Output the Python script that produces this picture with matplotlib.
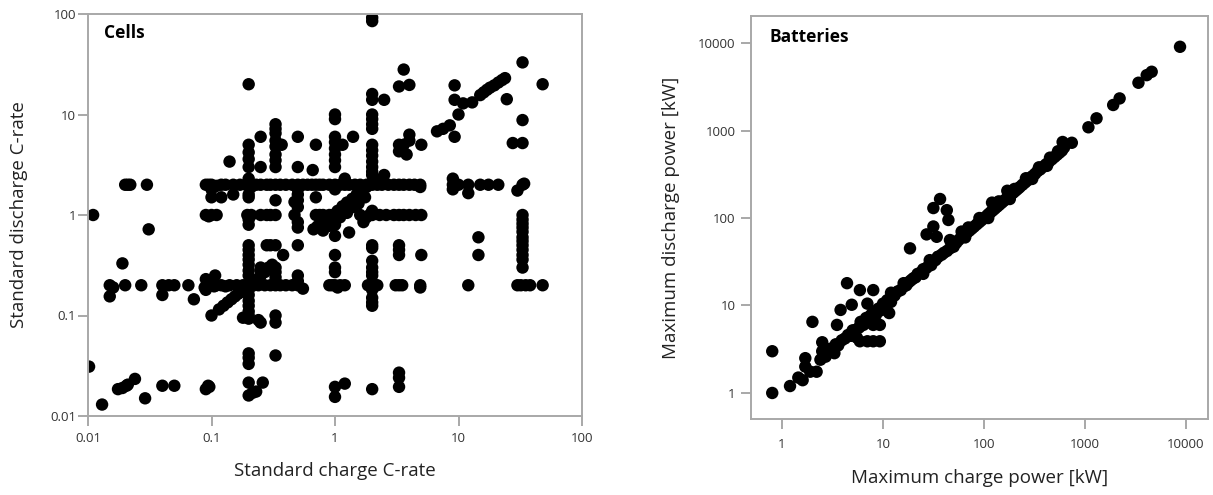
import numpy as np
import matplotlib
matplotlib.use("Agg")
import matplotlib.pyplot as plt

plt.rcParams['font.family'] = ['Open Sans', 'DejaVu Sans']

# --- cells: standard charge vs discharge C-rate ---
cells_bottom = [
    (0.0102, 0.031), (0.013, 0.013), (0.0175, 0.0185), (0.019, 0.019), (0.0205, 0.02), (0.021, 0.0205),
    (0.024, 0.0234), (0.029, 0.015), (0.04, 0.02), (0.05, 0.02), (0.09, 0.0185), (0.094, 0.02), (0.096, 0.0195),
    (0.2, 0.0215), (0.2, 0.016), (0.215, 0.017), (0.23, 0.0175), (0.26, 0.0215),
    (0.2, 0.033), (0.2, 0.038), (0.2, 0.042), (0.33, 0.04),
    (1.0, 0.0195), (1.0, 0.0155), (1.2, 0.021), (2.0, 0.0185), (3.3, 0.027), (3.3, 0.024), (3.3, 0.0195),
]

cells_tenth = [
    (0.015, 0.2), (0.016, 0.19), (0.02, 0.2), (0.027, 0.2), (0.04, 0.2), (0.045, 0.2), (0.05, 0.2), (0.065, 0.2),
    (0.088, 0.19), (0.092, 0.2), (0.1, 0.2), (0.105, 0.195), (0.11, 0.2), (0.12, 0.2), (0.13, 0.195), (0.14, 0.2),
    (0.16, 0.2), (0.18, 0.2), (0.2, 0.2), (0.22, 0.2), (0.24, 0.2), (0.27, 0.2), (0.3, 0.2), (0.33, 0.2), (0.36, 0.2),
    (0.4, 0.2), (0.45, 0.2), (0.5, 0.2), (0.55, 0.185), (0.9, 0.2), (0.95, 0.2), (1.0, 0.2), (1.05, 0.19), (1.1, 0.2),
    (1.2, 0.2), (1.85, 0.2), (1.95, 0.195), (2.0, 0.2), (2.1, 0.2), (2.2, 0.2), (3.1, 0.2), (3.3, 0.2), (3.5, 0.2),
    (4.9, 0.2), (4.9, 0.19), (12, 0.2), (30, 0.2), (32, 0.2), (35, 0.2), (38, 0.2), (48, 0.2),
    (0.015, 0.155), (0.04, 0.16), (0.072, 0.145), (0.09, 0.18), (0.09, 0.23), (0.1, 0.22), (0.107, 0.25),
    (0.1, 0.1), (0.2, 0.093), (0.2, 0.1), (0.2, 0.11), (0.2, 0.125), (0.2, 0.14), (0.2, 0.16), (0.2, 0.18),
    (0.2, 0.25), (0.2, 0.28), (0.2, 0.32), (0.2, 0.36), (0.2, 0.4), (0.2, 0.45), (0.2, 0.5),
    (0.18, 0.095), (0.25, 0.085), (0.24, 0.09), (0.25, 0.28), (0.25, 0.3), (0.28, 0.5), (0.3, 0.5), (0.33, 0.5),
    (0.33, 0.1), (0.33, 0.085), (0.33, 0.3), (0.33, 0.27), (0.33, 0.24), (0.38, 0.4), (0.5, 0.5), (0.5, 0.25),
    (0.5, 0.22), (0.019, 0.33),
    (0.115, 0.115), (0.125, 0.125), (0.135, 0.135), (0.145, 0.145), (0.155, 0.155), (0.165, 0.165),
    (0.175, 0.172), (0.19, 0.185), (0.21, 0.21), (0.23, 0.225), (0.25, 0.25), (0.27, 0.27), (0.29, 0.3), (0.31, 0.32),
    (1.0, 0.4), (1.0, 0.3), (1.0, 0.27), (2.0, 0.47), (2.0, 0.5), (2.0, 0.35), (2.0, 0.3), (2.0, 0.27), (2.0, 0.25),
    (2.0, 0.18), (2.0, 0.15), (2.0, 0.135), (2.0, 0.125),
    (3.3, 0.5), (3.3, 0.45), (3.3, 0.4), (5.0, 0.4), (14.5, 0.6), (14.5, 0.4),
    (33, 0.3), (33, 0.36), (33, 0.4), (33, 0.45), (33, 0.5), (33, 0.55), (33, 0.6), (33, 0.68), (33, 0.75),
    (33, 0.82), (33, 0.9),
]

cells_unit = [
    (0.011, 1.0), (0.031, 0.72), (0.09, 1.0), (0.095, 0.97), (0.1, 1.0), (0.11, 1.0), (0.195, 1.0), (0.2, 0.9),
    (0.2, 0.8), (0.21, 1.0), (0.25, 1.0), (0.28, 1.0), (0.3, 1.0), (0.33, 1.0), (0.47, 1.0), (0.5, 0.75),
    (0.5, 0.85), (0.5, 1.2), (0.5, 1.4), (0.5, 1.6), (0.5, 1.8), (0.47, 1.35), (0.7, 1.0), (0.75, 1.0), (0.8, 1.0),
    (0.9, 1.0), (1.0, 1.0), (1.0, 0.62), (1.0, 0.8), (1.3, 0.67), (1.6, 1.0), (1.7, 0.85), (1.8, 0.95), (1.9, 1.0),
    (2.0, 1.0), (2.0, 1.1), (2.3, 1.0), (2.6, 1.0), (3.0, 1.0), (3.3, 1.0), (3.6, 1.0), (4.0, 1.0), (4.5, 1.0),
    (5.0, 1.0), (33, 1.0),
    (0.67, 0.72), (0.72, 0.77), (0.78, 0.84), (0.86, 0.92), (0.95, 1.0), (1.05, 1.1), (1.15, 1.22), (1.25, 1.33),
    (1.38, 1.45), (1.5, 1.6), (1.65, 1.75), (1.8, 1.9), (1.95, 2.05), (2.1, 2.25),
    (0.8, 0.7), (0.9, 0.78), (1.0, 0.86), (1.1, 0.95), (1.25, 1.05), (1.4, 1.2), (1.55, 1.3), (1.75, 1.5),
    (0.1, 1.5), (0.12, 1.5), (0.15, 1.6), (0.2, 1.5), (0.2, 1.6), (0.33, 1.4), (0.7, 1.5), (1.0, 1.8), (0.1, 1.8),
    (0.02, 2.0), (0.021, 2.0), (0.022, 2.0), (0.03, 2.0), (0.09, 2.0), (0.095, 2.0), (0.1, 2.0), (0.11, 1.95),
    (0.12, 2.0), (0.13, 2.0), (0.15, 2.0), (0.17, 2.0), (0.19, 2.0), (0.2, 2.0), (0.21, 1.9), (0.23, 2.0),
    (0.25, 2.0), (0.28, 2.0), (0.3, 2.0), (0.33, 2.0), (0.36, 2.0), (0.4, 2.0), (0.45, 2.0), (0.5, 2.0),
    (0.55, 2.0), (0.6, 2.0), (0.65, 2.0), (0.7, 2.0), (0.75, 2.0), (0.8, 2.0), (0.9, 2.0), (1.0, 2.0), (1.1, 2.0),
    (1.2, 2.0), (1.3, 2.0), (1.45, 2.0), (1.6, 2.0), (1.8, 2.0), (2.0, 2.0), (2.2, 2.0), (2.4, 2.0), (2.7, 2.0),
    (3.0, 2.0), (3.3, 2.0), (3.6, 2.0), (4.0, 2.0), (4.4, 2.0), (4.9, 2.0), (4.9, 1.9),
    (9.0, 2.0), (9.0, 2.3), (9.0, 1.8), (9.5, 2.0), (10, 2.0), (12, 1.65), (12, 2.0), (15, 2.0), (17.5, 2.0),
    (21, 2.0), (30, 1.75), (33, 2.0), (34, 2.05),
    (0.2, 2.3), (1.2, 2.3), (2.0, 2.5), (2.5, 2.5),
]

cells_high = [
    (0.14, 3.4), (0.2, 3.0), (0.2, 3.6), (0.2, 4.2), (0.2, 5.0), (0.25, 3.0), (0.25, 6.0), (0.33, 8.0),
    (0.33, 7.2), (0.33, 6.5), (0.33, 5.5), (0.33, 4.8), (0.33, 4.0), (0.33, 3.5), (0.33, 3.0), (0.37, 5.0),
    (0.5, 6.0), (0.5, 3.0), (0.66, 2.8), (0.7, 5.0),
    (1.0, 10), (1.0, 9.0), (1.0, 6.0), (1.0, 5.3), (1.0, 4.6), (1.0, 4.0), (1.0, 3.5), (1.0, 3.0), (1.15, 5.0),
    (1.4, 6.0),
    (2.0, 16), (2.0, 14), (2.0, 10), (2.0, 9.0), (2.0, 8.0), (2.0, 7.2), (2.0, 5.0), (2.0, 4.4), (2.0, 3.9),
    (2.0, 3.4), (2.0, 3.0), (2.0, 2.7), (2.5, 14),
    (3.3, 5.0), (3.3, 4.3), (3.6, 5.0), (3.8, 4.0), (4.0, 6.3), (4.0, 5.5), (5.0, 5.0),
    (0.2, 20), (2.0, 92), (2.0, 85), (3.3, 19), (3.6, 28), (4.0, 19.7),
    (6.7, 6.8), (7.5, 7.2), (8.5, 7.8), (9.3, 6.0), (9.3, 14), (9.3, 19.5), (10, 10), (10.9, 12.9), (12.9, 13.2),
    (15, 15.6), (16, 16.6), (17, 17.6), (18, 18.5), (19.5, 19.5), (21, 20.8), (22.5, 22), (23.8, 23),
    (24.6, 14.2), (27.5, 5.2), (33, 5.2), (33, 8.8), (33, 33), (48, 20),
]

# --- batteries: maximum charge vs discharge power [kW] ---
batt_band = [
    (1.2, 1.2), (1.45, 1.5), (1.6, 1.4), (1.7, 2.0), (1.7, 2.5), (1.9, 1.75), (2.2, 1.75), (2.4, 2.4),
    (2.5, 3.0), (2.5, 3.8), (2.7, 2.6), (3.0, 3.2), (3.3, 2.85), (3.4, 3.6), (3.6, 3.5), (3.9, 4.0), (4.2, 4.2),
    (4.5, 4.6), (4.8, 4.5), (5.0, 5.2), (5.4, 5.3), (5.8, 5.6), (6.0, 6.5), (6.4, 6.0), (6.8, 7.2), (7.2, 6.8),
    (7.6, 7.8), (8.0, 8.5), (8.5, 7.8), (9.0, 9.2), (9.5, 8.8), (10, 10.5), (10.5, 9.5), (11, 11.5), (12, 11),
    (12, 12.5), (13, 13), (14, 14.5), (15, 15), (16, 16.5), (17, 17), (18, 18.5), (19, 19.5), (20, 20.5),
    (21, 21), (22, 23), (24, 24), (25, 26), (27, 27), (29, 30), (30, 29), (33, 33), (35, 36), (38, 38),
    (40, 40), (43, 42), (46, 45),
    (50, 47), (53, 52), (56, 56), (60, 62), (60, 70), (64, 64), (68, 68), (72, 72), (76, 76), (80, 80),
    (85, 85), (90, 90), (95, 95), (100, 100), (105, 104), (110, 110), (116, 116), (122, 122), (120, 150),
    (128, 128), (135, 135), (142, 142), (150, 150), (158, 158), (166, 166), (170, 205), (175, 175), (185, 185),
    (195, 195), (205, 205), (215, 215), (225, 225), (240, 240), (255, 255), (270, 270), (285, 285), (300, 300),
    (320, 320), (340, 345), (360, 360), (385, 385), (410, 410), (440, 440), (470, 470), (500, 500), (530, 530),
    (560, 560), (590, 590), (600, 740), (620, 640), (740, 725), (1080, 1090), (1300, 1380), (1900, 1960),
    (2200, 2330), (3380, 3520), (4080, 4300), (4570, 4700), (8720, 9070),
    (70, 78), (90, 100), (140, 155), (200, 215), (260, 285), (350, 380), (450, 490), (540, 580),
    (65, 60), (110, 100), (180, 165), (300, 280), (420, 395), (12, 14), (16, 18), (25, 23),
    (5.9, 3.9), (7.0, 3.9), (8.0, 3.9), (9.3, 3.9), (9.3, 6.0), (8.0, 6.0), (11.5, 8.2), (5.5, 4.3),
]

batt_off = [
    (0.8, 1.0), (0.8, 3.0), (2.0, 6.5), (3.5, 6.0), (3.8, 8.9), (4.4, 18), (4.9, 10.2), (5.9, 15), (8.0, 15),
    (7.0, 10.5), (18.5, 45), (27, 65), (31.5, 80), (31.5, 130), (34, 61), (36.7, 165), (42.8, 123), (44.4, 95),
    (46, 56), (29, 33), (35, 36),
]

left_ticks = [0.01, 0.1, 1, 10, 100]
left_labels = ['0.01', '0.1', '1', '10', '100']
right_ticks = [1, 10, 100, 1000, 10000]
right_labels = ['1', '10', '100', '1000', '10000']

W, H = 1213, 495
fig = plt.figure(figsize=(W / 100, H / 100), dpi=100)
frame = '#a8a8a8'
tick_text = '#333333'


def style(ax, ticks, labels, xpad, ypad):
    ax.set_xscale('log')
    ax.set_yscale('log')
    ax.set_xticks(ticks)
    ax.set_xticklabels(labels)
    ax.set_yticks(ticks)
    ax.set_yticklabels(labels)
    ax.minorticks_off()
    for s in ax.spines.values():
        s.set_color(frame)
        s.set_linewidth(1.4)
        s.set_zorder(5)
    ax.tick_params(axis='both', direction='out', length=7.5, width=1.4, color=frame,
                   labelsize=9.5, labelcolor=tick_text)
    ax.tick_params(axis='x', pad=xpad)
    ax.tick_params(axis='y', pad=ypad)


def scatter(ax, groups):
    pts = np.array([p for g in groups for p in g])
    ax.scatter(pts[:, 0], pts[:, 1], s=80, c='black', edgecolors='none', zorder=3)


# left panel: cells
ax1 = fig.add_axes([88 / W, 1 - 416 / H, (582 - 88) / W, (416 - 14) / H])
scatter(ax1, [cells_bottom, cells_tenth, cells_unit, cells_high])
style(ax1, left_ticks, left_labels, 4, 1)
ax1.set_xlim(0.01, 100)
ax1.set_ylim(0.01, 100)
ax1.set_xlabel('Standard charge C-rate', fontsize=13.5, color='#222222', labelpad=12)
ax1.set_ylabel('Standard discharge C-rate', fontsize=13.5, color='#222222', labelpad=16)
ax1.text(0.033, 0.952, 'Cells', transform=ax1.transAxes, fontsize=12.5, fontweight='bold',
         va='center', ha='left')

# right panel: batteries
ax2 = fig.add_axes([751 / W, 1 - 419 / H, (1208 - 751) / W, (419 - 16) / H])
scatter(ax2, [batt_band, batt_off])
style(ax2, right_ticks, right_labels, 6, 3.5)
ax2.set_xlim(0.493, 16500)
ax2.set_ylim(0.504, 20400)
ax2.set_xlabel('Maximum charge power [kW]', fontsize=13.5, color='#222222', labelpad=13)
ax2.set_ylabel('Maximum discharge power [kW]', fontsize=13.5, color='#222222', labelpad=13)
ax2.text(0.04, 0.948, 'Batteries', transform=ax2.transAxes, fontsize=12.5, fontweight='bold',
         va='center', ha='left')

fig.savefig('out.png', dpi=100)
